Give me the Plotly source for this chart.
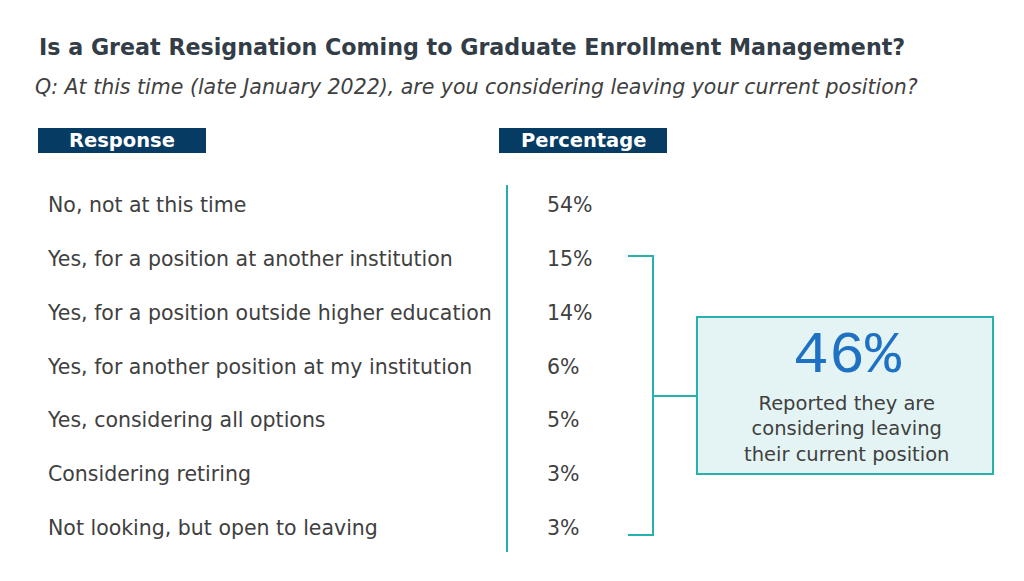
import plotly.graph_objects as go

# survey data
responses = [
    "No, not at this time",
    "Yes, for a position at another institution",
    "Yes, for a position outside higher education",
    "Yes, for another position at my institution",
    "Yes, considering all options",
    "Considering retiring",
    "Not looking, but open to leaving",
]
percentages = [54, 15, 14, 6, 5, 3, 3]
leaving_total = 46

title_text = "Is a Great Resignation Coming to Graduate Enrollment Management?"
question_text = "Q: At this time (late January 2022), are you considering leaving your current position?"
headers = ["Response", "Percentage"]
callout_text = "Reported they are<br>considering leaving<br>their current position"

W, H = 1024, 581
OFF = 8  # page body margin
NAVY = "#063B63"
TEAL = "#26B0AE"
TEXT = "#404040"


def py(p):
    # page pixel from top -> paper coordinate
    return 1 - (p - OFF) / H


fig = go.Figure()

# row labels and values, rows placed by index on the y axis
rows = list(range(len(responses)))
fig.add_trace(go.Scatter(
    x=[48] * len(responses), y=rows, mode="text", text=responses,
    textposition="middle right",
    textfont=dict(family="DejaVu Sans", size=20.5, color=TEXT),
    hoverinfo="skip", showlegend=False,
))
fig.add_trace(go.Scatter(
    x=[547] * len(percentages), y=rows, mode="text",
    text=[f"{v}%" for v in percentages],
    textposition="middle right",
    textfont=dict(family="DejaVu Sans", size=20.5, color=TEXT),
    hoverinfo="skip", showlegend=False,
))

shapes = []
# header boxes
for x0, x1 in [(38, 206), (499, 667)]:
    shapes.append(dict(type="rect", xref="x", yref="paper", x0=x0, x1=x1,
                       y0=py(153), y1=py(128), fillcolor=NAVY, line_width=0))
# vertical divider
shapes.append(dict(type="line", xref="x", yref="paper", x0=507, x1=507,
                   y0=py(185), y1=py(552), line=dict(color=TEAL, width=2)))
# bracket
shapes.append(dict(type="path", xref="x", yref="paper",
                   path=f"M 628,{py(256)} L 653,{py(256)} L 653,{py(535)} L 628,{py(535)}",
                   line=dict(color=TEAL, width=2)))
shapes.append(dict(type="line", xref="x", yref="paper", x0=653, x1=697,
                   y0=py(396), y1=py(396), line=dict(color=TEAL, width=2)))
# callout box
shapes.append(dict(type="rect", xref="x", yref="paper", x0=697, x1=993,
                   y0=py(474), y1=py(317), fillcolor="#E4F4F4",
                   line=dict(color=TEAL, width=2)))

annotations = [
    dict(text=f"<b>{title_text}</b>", x=37, y=py(47), xref="x", yref="paper",
         xanchor="left", yanchor="middle", showarrow=False,
         font=dict(family="DejaVu Sans", size=22.2, color="#333D47")),
    dict(text=f"<i>{question_text}</i>", x=33, y=py(87), xref="x", yref="paper",
         xanchor="left", yanchor="middle", showarrow=False,
         font=dict(family="DejaVu Sans", size=20.5, color=TEXT)),
    dict(text=f"<b>{headers[0]}</b>", x=122, y=py(141), xref="x", yref="paper",
         xanchor="center", yanchor="middle", showarrow=False,
         font=dict(family="DejaVu Sans", size=19.5, color="white")),
    dict(text=f"<b>{headers[1]}</b>", x=583, y=py(141), xref="x", yref="paper",
         xanchor="center", yanchor="middle", showarrow=False,
         font=dict(family="DejaVu Sans", size=19.5, color="white")),
    dict(text=f"{leaving_total}%", x=847, y=py(356), xref="x", yref="paper",
         xanchor="center", yanchor="middle", showarrow=False,
         font=dict(family="Liberation Mono", size=60, color="#1F71C4")),
    dict(text=callout_text, x=846, y=py(429), xref="x", yref="paper",
         xanchor="center", yanchor="middle", showarrow=False, align="center",
         font=dict(family="DejaVu Sans", size=19.5, color=TEXT)),
]

# row 0 centred at 207px on the page, equal row spacing
row_top, row_bottom = 207, 530
row_h = (row_bottom - row_top) / 6
fig.update_layout(
    width=W, height=H,
    margin=dict(l=0, r=0, t=0, b=0),
    paper_bgcolor="white", plot_bgcolor="white",
    xaxis=dict(range=[OFF, W + OFF], visible=False, fixedrange=True),
    yaxis=dict(range=[(H + OFF - row_top) / row_h, (OFF - row_top) / row_h],
               visible=False, fixedrange=True),
    shapes=shapes, annotations=annotations,
)

fig.write_html("out.html")
